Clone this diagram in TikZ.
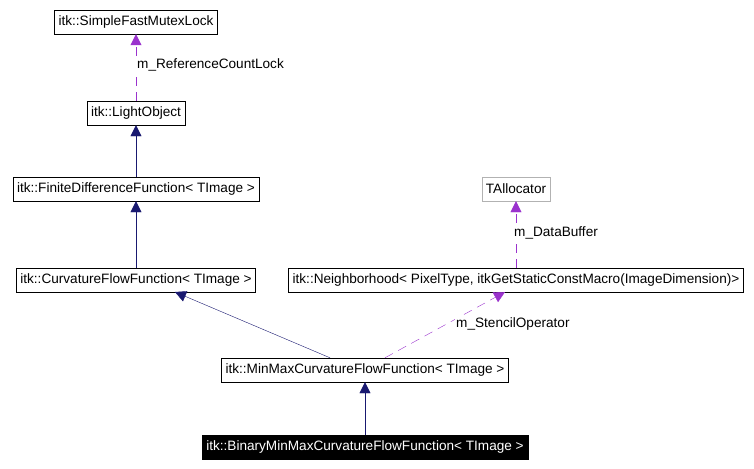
\documentclass[tikz,border=0pt]{standalone}
\usepackage{fontspec}
\setmainfont{Liberation Sans}
\usetikzlibrary{arrows.meta}
\definecolor{inhcol}{RGB}{25,25,112}
\definecolor{usecol}{RGB}{154,50,205}
\begin{document}
\begin{tikzpicture}[x=1pt,y=-1pt,
    cls/.style={draw, fill=white, minimum height=24pt, inner xsep=4pt, font=\fontsize{13.6}{15}\selectfont},
    inh/.style={draw=inhcol, -{Triangle[length=11pt,width=11pt,fill=inhcol]}},
    use/.style={draw=usecol, dashed, dash pattern=on 9pt off 6pt, -{Triangle[length=11pt,width=11pt,fill=usecol]}},
    lbl/.style={font=\fontsize{13.6}{15}\selectfont, fill=white, inner sep=1pt}]
    \useasboundingbox (0,0) rectangle (754,468);
    %Klasser
        \node[cls] (lock) at (136,22) {itk::SimpleFastMutexLock};
        \node[cls] (light) at (136,113) {itk::LightObject};
        \node[cls] (finite) at (136,189) {itk::FiniteDifferenceFunction< TImage >};
        \node[cls] (curv) at (136,280) {itk::CurvatureFlowFunction< TImage >};
        \node[cls, draw=gray!60] (alloc) at (516,189) {TAllocator};
        \node[cls] (neigh) at (516,280) {itk::Neighborhood< PixelType, itkGetStaticConstMacro(ImageDimension)>};
        \node[cls] (minmax) at (365,370) {itk::MinMaxCurvatureFlowFunction< TImage >};
        \node[cls, fill=black, text=white] (binary) at (365,447) {itk::BinaryMinMaxCurvatureFlowFunction< TImage >};

    %Arv
        \draw[inh] (finite) -- (light);
        \draw[inh] (curv) -- (finite);
        \draw[inh] (binary) -- (minmax);
        \draw[inh] (minmax.north -| 330,0) -- (175,292);

    %Medlemmer
        \draw[use] (light) -- (lock);
        \draw[use] (neigh) -- (alloc);
        \draw[use] (minmax.north -| 385,0) -- (505,292);
        \node[lbl, anchor=west] (lref) at (136,65) {m\_ReferenceCountLock};
        \node[lbl, anchor=west] (lbuf) at (513,233) {m\_DataBuffer};
        \node[lbl, anchor=west] (lsten) at (455,324) {m\_StencilOperator};
\end{tikzpicture}
\end{document}
